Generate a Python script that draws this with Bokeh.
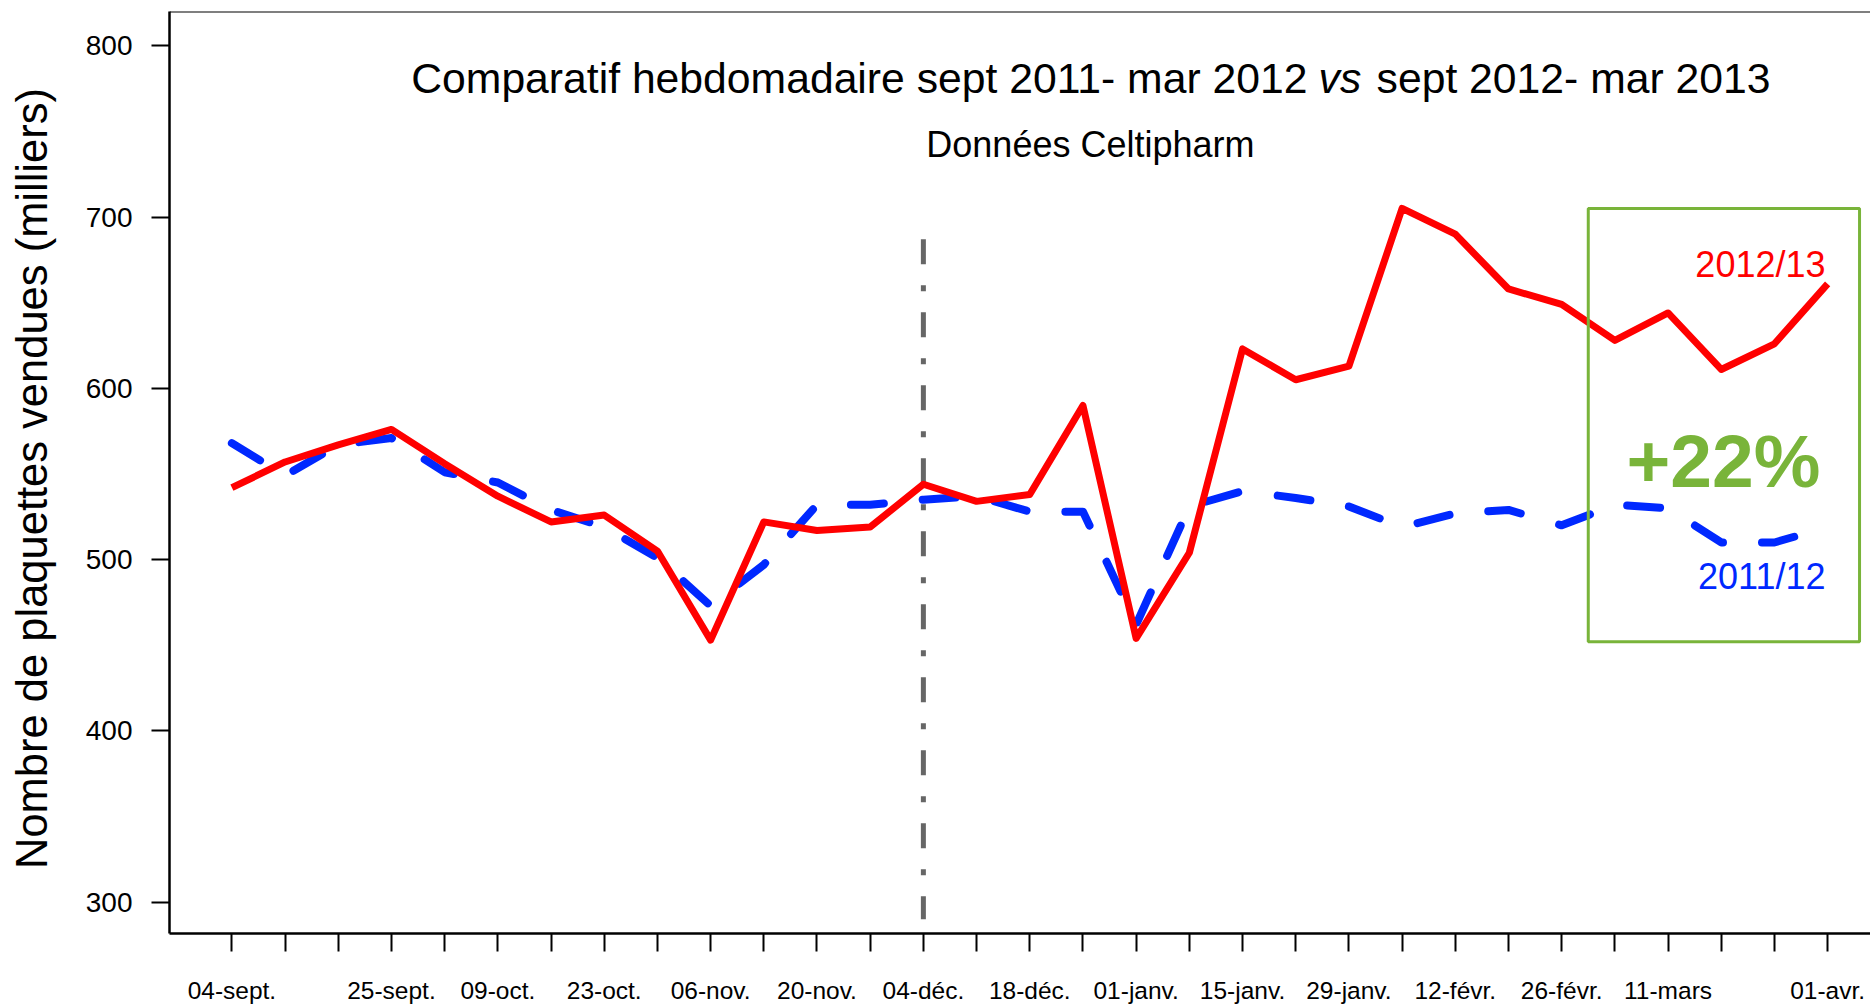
from bokeh.plotting import figure
from bokeh.models import FixedTicker, Range1d, Span
from bokeh.core.properties import value
from bokeh.embed import file_html
from bokeh.resources import INLINE

# ---------------- data ----------------
weeks = list(range(31))
week_labels = ["04-sept.", "", "", "25-sept.", "", "09-oct.", "", "23-oct.", "",
               "06-nov.", "", "20-nov.", "", "04-déc.", "", "18-déc.", "",
               "01-janv.", "", "15-janv.", "", "29-janv.", "", "12-févr.", "",
               "26-févr.", "", "11-mars", "", "", "01-avr."]
sales_2012_13 = [542, 557, 567, 576, 556, 537, 522, 526, 505, 453, 522, 517, 519, 544, 534,
                 538, 590, 454, 504, 623, 605, 613, 705, 690, 658, 649, 628, 644, 611, 626, 661]
sales_2011_12 = [568, 549, 567, 571, 551, 545, 529, 519, 501, 473, 497, 532, 532, 535, 537,
                 528, 528, 462, 531, 540, 536, 531, 519, 527, 529, 520, 532, 530, 510, 510, 519]
y_ticks = [300, 400, 500, 600, 700, 800]
separator_week = 13
separator_span = (687, 290)
highlight_weeks = (25.5, 30.6)
highlight_values = (452, 705)

title_parts = ["Comparatif hebdomadaire sept 2011- mar 2012", "vs", "sept 2012- mar 2013"]
subtitle = "Données Celtipharm"
label_new = "2012/13"
label_old = "2011/12"
growth = "+22%"

RED = "#FF0000"
BLUE = "#0028FF"
GREEN = "#79B43A"
FONT = "Liberation Sans"

p = figure(width=1870, height=1006, output_backend="svg", toolbar_location=None,
           x_range=Range1d(-1.173, 30.806), y_range=Range1d(281.7, 820.0),
           min_border=0, min_border_left=169, min_border_top=11,
           min_border_bottom=73, min_border_right=0)
p.outline_line_color = None
p.grid.visible = False
p.background_fill_color = "white"
p.border_fill_color = "white"

# axes
p.xaxis.ticker = FixedTicker(ticks=weeks)
p.xaxis.major_label_overrides = {w: lab for w, lab in zip(weeks, week_labels)}
p.yaxis.ticker = FixedTicker(ticks=y_ticks)
for ax in (p.xaxis, p.yaxis):
    ax.axis_line_color = "black"
    ax.axis_line_width = 2.5
    ax.major_tick_line_color = "black"
    ax.major_tick_line_width = 2
    ax.major_tick_in = 0
    ax.major_tick_out = 18
    ax.minor_tick_line_color = None
    ax.major_label_text_font = FONT
    ax.major_label_text_color = "black"
p.xaxis.major_label_text_font_size = "24.5px"
p.xaxis.major_label_standoff = 25
p.yaxis.major_label_text_font_size = "28px"
p.yaxis.major_label_standoff = 19
p.yaxis.axis_label = "Nombre de plaquettes vendues  (milliers)"
p.yaxis.axis_label_text_font = FONT
p.yaxis.axis_label_text_font_size = "43.5px"
p.yaxis.axis_label_text_font_style = "normal"
p.yaxis.axis_label_text_color = "black"
p.yaxis.axis_label_standoff = 27

# top frame border
p.add_layout(Span(location=820.0, dimension="width", line_color="black", line_width=2))

# separator
p.line(x=[separator_week, separator_week], y=list(separator_span), line_color="#666666",
       line_width=5, line_dash="25 21 6 21")

# series
p.line(x=weeks, y=sales_2011_12, line_color=BLUE, line_width=8, line_dash="33 39 33 40",
       line_cap="round", line_join="round")
p.line(x=weeks, y=sales_2012_13, line_color=RED, line_width=7, line_join="round")

# highlight box
p.quad(left=[highlight_weeks[0]], right=[highlight_weeks[1]],
       bottom=[highlight_values[0]], top=[highlight_values[1]],
       fill_color=None, line_color=GREEN, line_width=3)

# titles
p.text(x=[20.22], y=[781.2], text=[title_parts[0]], text_font=value(FONT),
       text_font_size="42.7px", text_align="right", text_baseline="alphabetic", text_color="black")
p.text(x=[20.43], y=[781.2], text=[title_parts[1]], text_font=value(FONT),
       text_font_size="42.7px", text_font_style="italic", text_align="left",
       text_baseline="alphabetic", text_color="black")
p.text(x=[21.52], y=[781.2], text=[title_parts[2]], text_font=value(FONT),
       text_font_size="42.7px", text_align="left", text_baseline="alphabetic", text_color="black")
p.text(x=[16.14], y=[742.2], text=[subtitle], text_font=value(FONT),
       text_font_size="36px", text_align="center", text_baseline="alphabetic", text_color="black")

# series labels
p.text(x=[29.96], y=[672.1], text=[label_new], text_font=value(FONT), text_font_size="36px",
       text_align="right", text_baseline="alphabetic", text_color=RED)
p.text(x=[29.96], y=[490.0], text=[label_old], text_font=value(FONT), text_font_size="36px",
       text_align="right", text_baseline="alphabetic", text_color=BLUE)
p.text(x=[28.04], y=[557.5], text=[growth], text_font=value(FONT), text_font_size="75px",
       text_font_style="bold", text_align="center", text_baseline="alphabetic", text_color=GREEN)

open("out.html", "w").write(file_html(p, INLINE))
